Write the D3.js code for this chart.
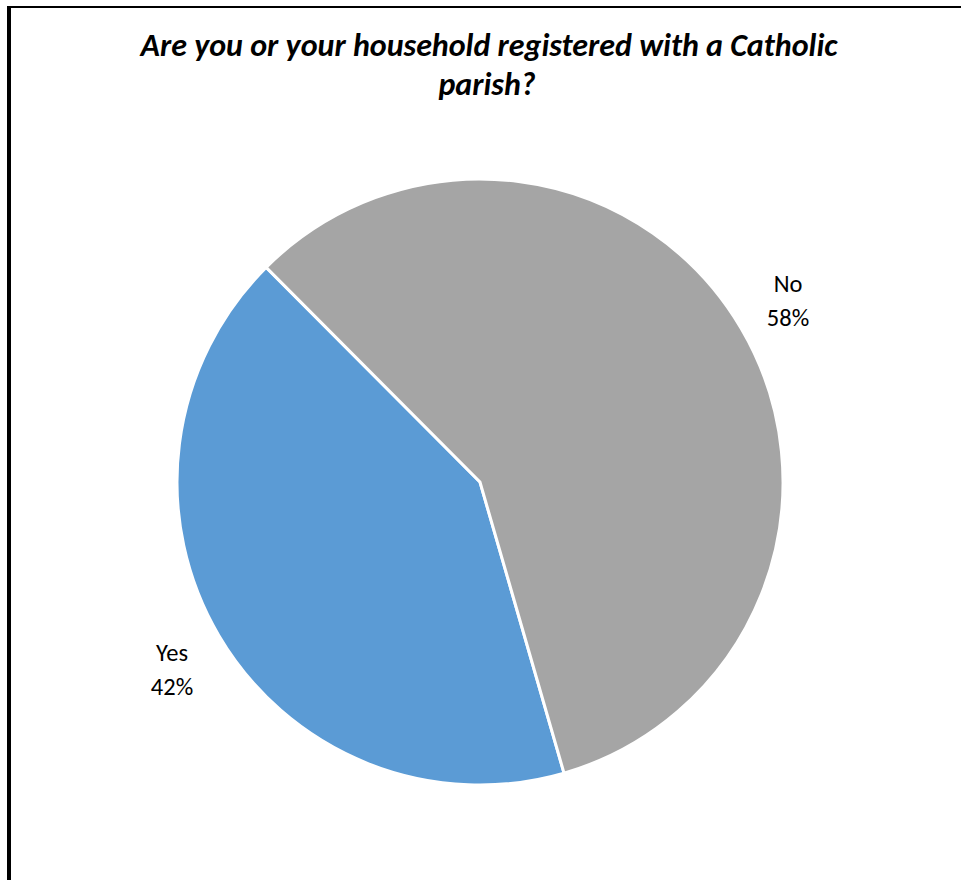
<!DOCTYPE html>
<html>
<head>
<meta charset="utf-8">
<script src="https://cdn.jsdelivr.net/npm/d3@7"></script>
<style>
  html, body { margin: 0; padding: 0; background: #fff; }
  svg { display: block; }
</style>
</head>
<body>
<div id="chart"></div>
<script>
const titleLines = ["Are you or your household registered with a Catholic", "parish?"];
const categories = ["Yes", "No"];
const values = [42, 58];
const colors = ["#5B9BD5", "#A5A5A5"];

const W = 961, H = 880;
const cx = 480, cy = 482, R = 303;
const startDeg = 163.9;

const svg = d3.select("#chart").append("svg")
  .attr("width", W).attr("height", H);

svg.append("rect").attr("width", W).attr("height", H).attr("fill", "#fff");

// frame (cropped: only top and left edges visible)
svg.append("rect").attr("x", 7).attr("y", 6).attr("width", W - 7).attr("height", 2).attr("fill", "#000");
svg.append("rect").attr("x", 7).attr("y", 6).attr("width", 4).attr("height", H - 6).attr("fill", "#000");

// title
const title = svg.append("g");
const titleFont = "Carlito, Calibri, Lato, 'Open Sans', sans-serif";
const tl = title.selectAll("text").data(titleLines).join("text")
  .attr("x", (d, i) => i === 0 ? 489 : 487)
  .attr("y", (d, i) => 56 + i * 39)
  .attr("text-anchor", "middle")
  .attr("font-family", titleFont)
  .attr("font-weight", "bold")
  .attr("font-style", "italic")
  .attr("font-size", 28)
  .attr("fill", "#000")
  .text(d => d);
const w0 = tl.node().getComputedTextLength();
const fs = 28 * 697 / w0;
tl.attr("font-size", fs);

// pie
const pie = d3.pie().sort(null).value(d => d.v)
  .startAngle(startDeg * Math.PI / 180)
  .endAngle(startDeg * Math.PI / 180 + 2 * Math.PI);
const data = categories.map((c, i) => ({ c, v: values[i], col: colors[i] }));
const arcs = pie(data);
const arc = d3.arc().innerRadius(0).outerRadius(R);

const g = svg.append("g").attr("transform", `translate(${cx},${cy})`);
g.selectAll("path").data(arcs).join("path")
  .attr("d", arc)
  .attr("fill", d => d.data.col)
  .attr("stroke", "#fff")
  .attr("stroke-width", 3)
  .attr("stroke-linejoin", "miter");

// labels (outside end)
const labelPos = { "Yes": [172, 661], "No": [788, 292] };
const labFont = "Carlito, Calibri, Lato, 'Open Sans', sans-serif";
arcs.forEach(a => {
  const [lx, ly] = labelPos[a.data.c];
  const t = svg.append("text")
    .attr("text-anchor", "middle")
    .attr("font-family", labFont)
    .attr("font-size", 24.5)
    .attr("fill", "#000");
  t.append("tspan").attr("x", lx).attr("y", ly).text(a.data.c);
  t.append("tspan").attr("x", lx).attr("y", ly + 34).text(d3.format(".0f")(a.data.v) + "%");
});
</script>
</body>
</html>
